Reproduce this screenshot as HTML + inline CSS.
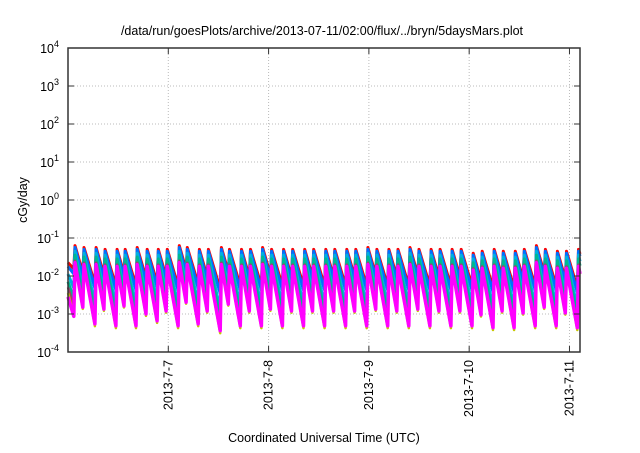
<!DOCTYPE html>
<html><head><meta charset="utf-8"><style>
body{margin:0;background:#fff}
text{font-family:"Liberation Sans",Helvetica,sans-serif;fill:#000}
</style></head><body>
<svg id="c" width="640" height="448" xmlns="http://www.w3.org/2000/svg">
<text x="322" y="35" font-size="12.5" text-anchor="middle">/data/run/goesPlots/archive/2013-07-11/02:00/flux/../bryn/5daysMars.plot</text>
<text transform="translate(27,200) rotate(-90)" font-size="12.5" text-anchor="middle">cGy/day</text>
<text x="324" y="442" font-size="12.5" text-anchor="middle">Coordinated Universal Time (UTC)</text>
<g id="grid"></g><g id="series"></g><g id="axes"></g>
</svg>
<script>
const yTickExps=[-4,-3,-2,-1,0,1,2,3,4];
const xTickDays=[1,2,3,4,5];
const xTickLabels=["2013-7-7","2013-7-8","2013-7-9","2013-7-10","2013-7-11"];
const peakDays=[0.07,0.16,0.28,0.37,0.49,0.57,0.69,0.79,0.90,0.99,1.11,1.19,1.31,1.40,1.53,1.61,1.73,1.82,1.94,2.03,2.15,2.24,2.36,2.45,2.57,2.66,2.78,2.87,2.99,3.08,3.20,3.29,3.41,3.50,3.62,3.71,3.83,3.92,4.04,4.13,4.25,4.34,4.46,4.55,4.67,4.76,4.88,4.97,5.09];
const peakLogs=[-1.2,-1.25,-1.25,-1.3,-1.3,-1.3,-1.25,-1.3,-1.3,-1.3,-1.2,-1.25,-1.3,-1.3,-1.25,-1.3,-1.3,-1.3,-1.25,-1.3,-1.3,-1.3,-1.3,-1.3,-1.3,-1.3,-1.3,-1.3,-1.25,-1.3,-1.3,-1.3,-1.25,-1.3,-1.3,-1.3,-1.3,-1.3,-1.4,-1.35,-1.3,-1.35,-1.35,-1.3,-1.2,-1.3,-1.35,-1.35,-1.3];
const seriesColors=["#ff0000","#0070ff","#00b0e0","#00b890","#a0406a","#c8c800","#ff00ff"];
const seriesOffsets=[0,-0.05,-0.15,-0.25,-0.4,-0.45,-0.45];
const seriesDecay=[8,8.5,11,12,13,13.5,13];
const seriesStart=[-1.65,-1.75,-1.95,-2.15,-2.3,-2.45,-2.55];
const seriesWidth=[3,3,3,3,2.5,2.5,3.5];
const X0=68,X1=580,Y0=48,Y1=352,DMAX=5.105;
const sx=d=>X0+(X1-X0)*d/DMAX;
const sy=l=>Y1-(Y1-Y0)*(l+4)/8;
const NS="http://www.w3.org/2000/svg";
function mk(tag,attrs,parent){const e=document.createElementNS(NS,tag);for(const k in attrs)e.setAttribute(k,attrs[k]);parent.appendChild(e);return e;}
const grid=document.getElementById('grid'),axes=document.getElementById('axes'),ser=document.getElementById('series');
yTickExps.forEach(e=>{
  const y=sy(e);
  if(e>-4&&e<4){const g=mk('line',{x1:X0,x2:X1,y1:y,y2:y,stroke:'#bbb','stroke-dasharray':'1,2','stroke-width':1},grid);
  
  }
  const t=mk('line',{x1:X0,x2:X0+6,y1:y,y2:y,stroke:'#333'},axes);
  
  
  const t2=mk('line',{x1:X1-6,x2:X1,y1:y,y2:y,stroke:'#333'},axes);
  
  
  const tx=mk('text',{x:59,y:y+5,'font-size':12.5,'text-anchor':'end'},axes);
  
  
  tx.innerHTML='10<tspan dy="-6" font-size="9">'+e+'</tspan>';
});
xTickDays.forEach((d,i)=>{
  const x=sx(d);
  const g=mk('line',{x1:x,x2:x,y1:Y0,y2:Y1,stroke:'#bbb','stroke-dasharray':'1,2'},grid);
  
  
  const t=mk('line',{x1:x,x2:x,y1:Y1-6,y2:Y1,stroke:'#333'},axes);
  
  
  const t2=mk('line',{x1:x,x2:x,y1:Y0,y2:Y0+6,stroke:'#333'},axes);
  
  
  const tx=mk('text',{transform:`translate(${x+4},360) rotate(-90)`,'font-size':12.5,'text-anchor':'end'},axes);
  
  
  tx.textContent=xTickLabels[i];
});
const fr=mk('rect',{x:X0,y:Y0,width:X1-X0,height:Y1-Y0,fill:'none',stroke:'#333','stroke-width':1.5},axes);


seriesColors.forEach((c,s)=>{
  const pts=[[sx(0),sy(seriesStart[s])]];
  let prevT=0,prevV=seriesStart[s]+0.4;
  peakDays.forEach((t,i)=>{
    const trough=Math.max(prevV-seriesDecay[s]*(t-prevT),-3.6);
    pts.push([sx(t-0.012),sy(trough)]);
    const pv=peakLogs[i]+seriesOffsets[s];
    pts.push([sx(t),sy(pv)]);
    prevT=t;prevV=pv;
  });
  pts.push([sx(DMAX),sy(prevV-seriesDecay[s]*(DMAX-prevT))]);
  const p=mk('polyline',{points:pts.map(p=>p[0].toFixed(1)+','+p[1].toFixed(1)).join(' '),fill:'none',stroke:c,'stroke-width':seriesWidth[s],'stroke-linejoin':'round'},ser);
  
  
});
</script>
</body></html>
